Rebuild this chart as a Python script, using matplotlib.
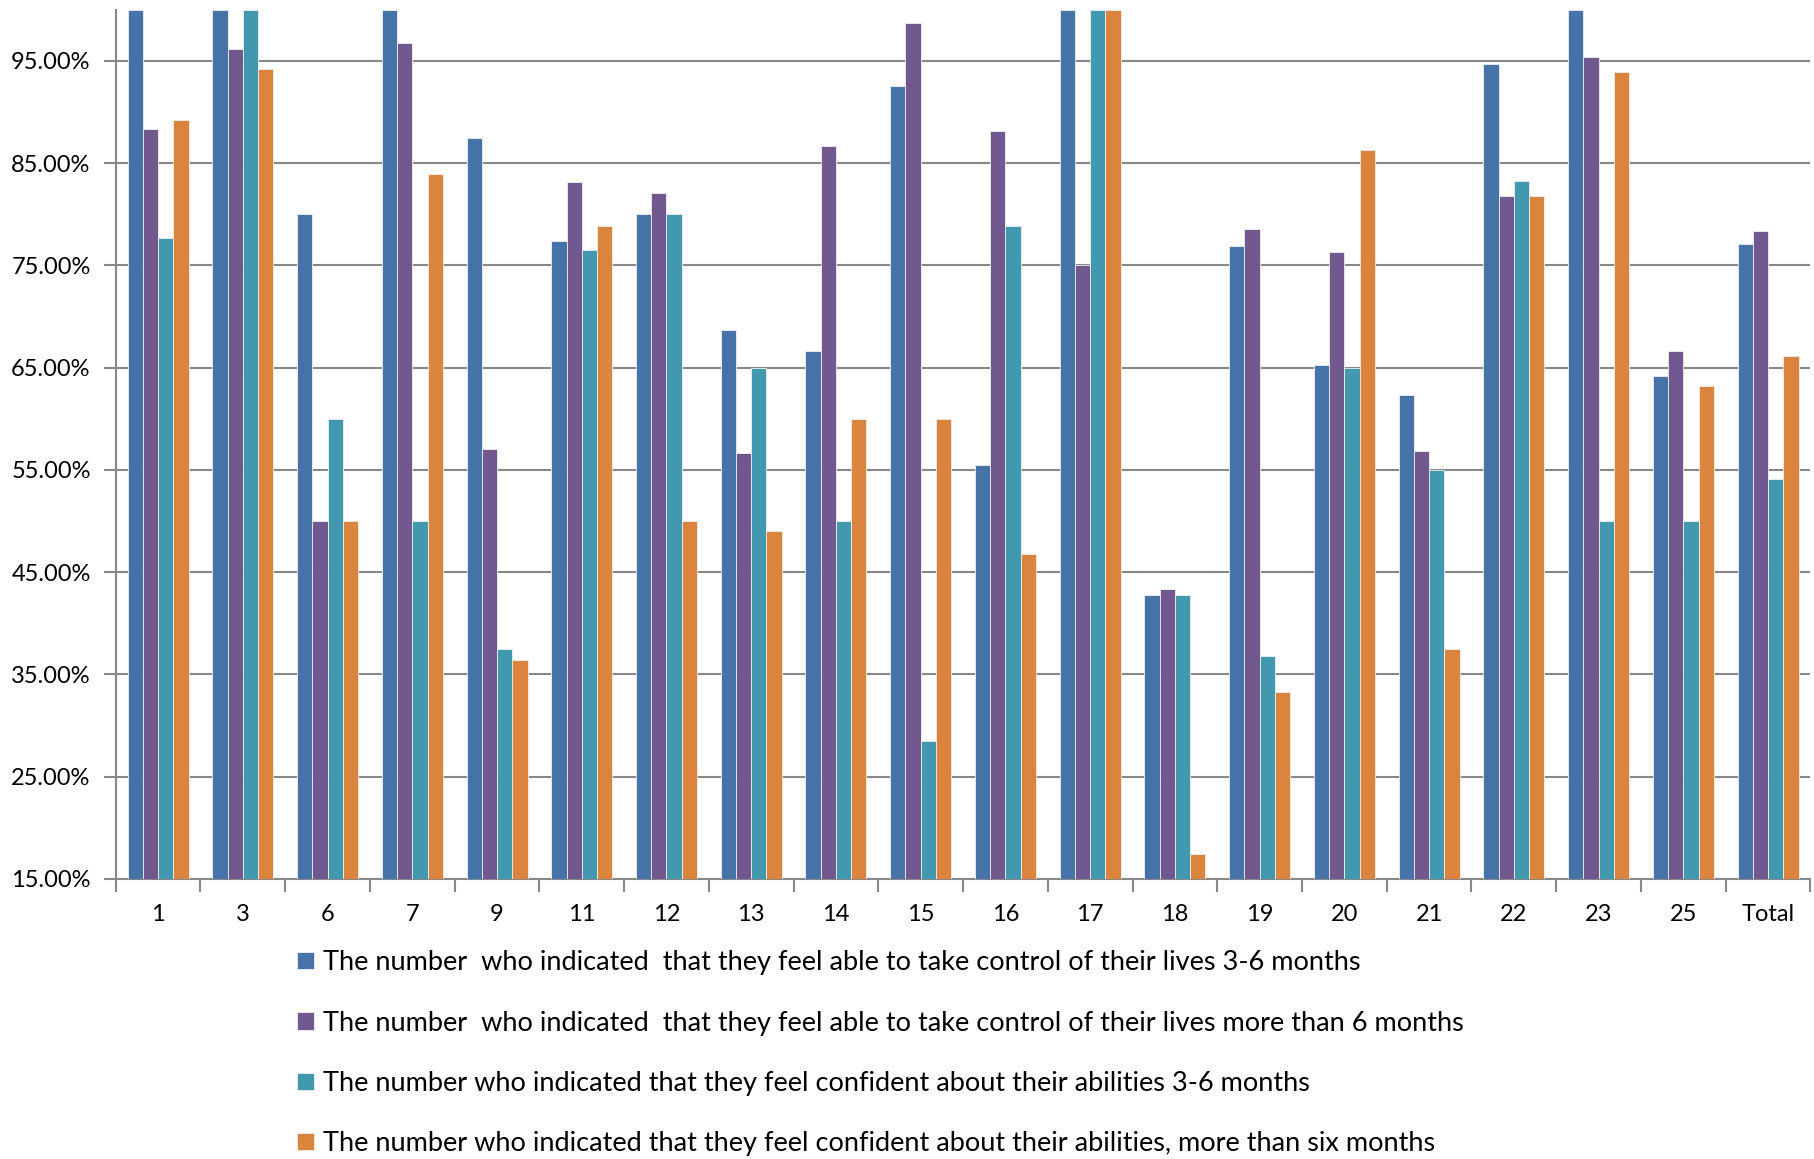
import matplotlib
matplotlib.use("Agg")
import matplotlib.pyplot as plt
import numpy as np
from matplotlib.ticker import FixedLocator, FuncFormatter

plt.rcParams['font.family'] = ['Lato', 'DejaVu Sans']

categories = ['1', '3', '6', '7', '9', '11', '12', '13', '14', '15', '16',
              '17', '18', '19', '20', '21', '22', '23', '25', 'Total']

control_3_6 = [100, 100, 80.0, 100, 87.5, 77.4, 80.0, 68.7, 66.6, 92.6, 55.5,
               100, 42.8, 76.9, 65.3, 62.3, 94.7, 100, 64.2, 77.1]
control_6plus = [88.3, 96.2, 50.0, 96.8, 57.1, 83.2, 82.1, 56.7, 86.7, 98.7, 88.2,
                 75.0, 43.4, 78.6, 76.3, 56.9, 81.8, 95.4, 66.6, 78.4]
confident_3_6 = [77.7, 100, 60.0, 50.0, 37.5, 76.5, 80.0, 65.0, 50.0, 28.5, 78.9,
                 100, 42.8, 36.8, 65.0, 55.0, 83.3, 50.0, 50.0, 54.1]
confident_6plus = [89.2, 94.2, 50.0, 83.9, 36.4, 78.9, 50.0, 49.0, 60.0, 60.0, 46.8,
                   100, 17.4, 33.3, 86.3, 37.5, 81.8, 93.9, 63.2, 66.1]

labels = [
    'The number  who indicated  that they feel able to take control of their lives 3-6 months',
    'The number  who indicated  that they feel able to take control of their lives more than 6 months',
    'The number who indicated that they feel confident about their abilities 3-6 months',
    'The number who indicated that they feel confident about their abilities, more than six months',
]
colors = ['#4572A7', '#71588F', '#4198AF', '#DB843D']
series = [control_3_6, control_6plus, confident_3_6, confident_6plus]

fig = plt.figure(figsize=(18.14, 11.59), dpi=100)
ax = fig.add_axes([0.0638, 0.2416, 0.998 - 0.0638, 0.9915 - 0.2416])

x = np.arange(len(categories))
w = 0.18
for i, (vals, c, lab) in enumerate(zip(series, colors, labels)):
    ax.bar(x + (i - 1.5) * w, vals, width=w, color=c, label=lab,
           edgecolor='#f0f0f0', linewidth=0.6, zorder=3)

ax.set_ylim(15, 100)
ax.set_xlim(-0.5, len(categories) - 0.5)
yt = np.arange(15, 96, 10)
ax.yaxis.set_major_locator(FixedLocator(yt))
ax.yaxis.set_major_formatter(FuncFormatter(lambda v, p: '%.2f%%' % v))
ax.grid(axis='y', color='#888888', linewidth=1.5, zorder=0)
ax.set_axisbelow(True)

ax.set_xticks(x)
ax.set_xticklabels(categories)
ax.set_xticks(np.arange(-0.5, len(categories)), minor=True)
ax.tick_params(axis='x', which='major', length=0, pad=18, labelsize=17)
ax.tick_params(axis='x', which='minor', length=9, width=1.5, color='#888888')
ax.tick_params(axis='y', length=9, width=1.5, color='#888888', pad=9, labelsize=17)

for s in ['top', 'right']:
    ax.spines[s].set_visible(False)
for s in ['left', 'bottom']:
    ax.spines[s].set_color('#888888')
    ax.spines[s].set_linewidth(1.5)

fig.legend(loc='upper left', bbox_to_anchor=(0.164, 0.180), ncol=1, frameon=False,
           fontsize=19.5, handlelength=0.6, handleheight=0.6, handletextpad=0.35,
           labelspacing=1.3, borderaxespad=0, borderpad=0)

fig.savefig('out.png', dpi=100)
